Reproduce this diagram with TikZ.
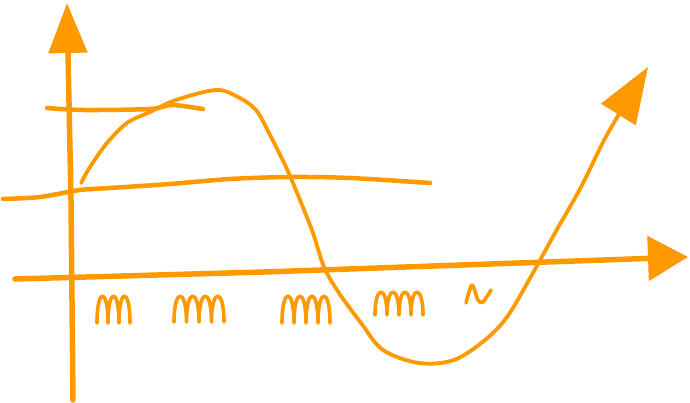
\documentclass[tikz,border=0pt]{standalone}
\usetikzlibrary{arrows.meta}

\definecolor{marker}{RGB}{255,153,0}

\tikzset{
  sketch/.style={draw=marker, line cap=round, line join=round},
  axis/.style={sketch, line width=5.5pt},
  guide/.style={sketch, line width=4.5pt},
  wave/.style={sketch, line width=3.8pt},
  scrawl/.style={sketch, line width=3.6pt},
}

% a row of handwritten humps: x, baseline y, hump width, height, count
\newcommand{\squiggle}[5]{%
  \draw[scrawl] (#1,-#2) foreach \i in {1,...,#5} {
    .. controls +(0,1.33*#4) and +(0,1.33*#4) .. ++(#3,0) };
}

\begin{document}
\begin{tikzpicture}[x=1pt,y=1pt]
  \useasboundingbox (0,0) rectangle (690,-403);

  % axes
  \coordinate (ybottom) at (73,-400);
  \coordinate (ytip) at (67,-3);
  \coordinate (xleft) at (15,-279);
  \coordinate (xtip) at (688,-257);
  \draw[axis, -{Triangle[length=50pt,width=38pt]}] (ybottom) -- (71,-200) -- (ytip);
  \draw[axis, -{Triangle[length=40pt,width=44pt]}] (xleft) -- (264,-272) -- (xtip);

  % level lines
  \draw[guide] plot[smooth] coordinates {(47,-108) (84,-110) (150,-109) (172,-105) (203,-109)};
  \draw[guide] plot[smooth] coordinates {(3,-199) (40,-197) (80,-190) (110,-188) (170,-184)
    (230,-179) (290,-177) (350,-178) (430,-183)};

  % the wave
  \draw[wave, -{Triangle[length=56pt,width=40pt]}] plot[smooth, tension=0.55] coordinates {
    (81,-183) (90,-167) (107,-143) (127,-123) (150,-112) (176,-100) (216,-90) (238,-97) (256,-110)
    (269,-133) (286,-167) (300,-200) (313,-233) (324,-267) (339,-293) (361,-323)
    (383,-350) (419,-363) (454,-360) (485,-340) (507,-317) (529,-280) (555,-233)
    (581,-187) (608,-133) (648,-67)};

  % scribbled tick labels
  \squiggle{97}{323}{11}{27}{3}
  \squiggle{174}{322}{12.5}{26}{4}
  \squiggle{282}{323}{12}{27}{4}
  \squiggle{375}{315}{12}{23}{4}
  \draw[scrawl] plot[smooth] coordinates {(466,-303) (472,-285) (478,-300) (483,-302) (491,-290)};
\end{tikzpicture}
\end{document}
